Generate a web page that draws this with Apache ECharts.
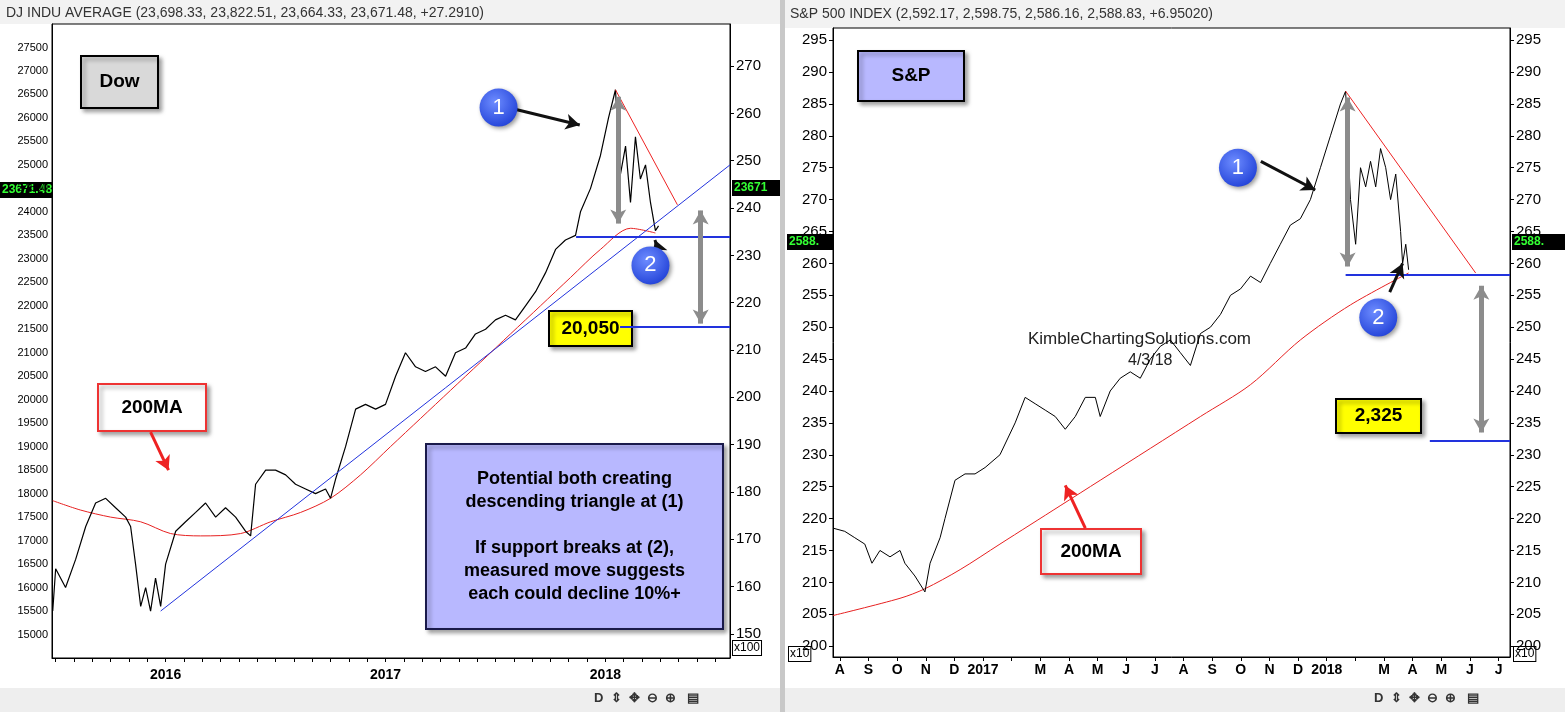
<!DOCTYPE html>
<html><head><meta charset="utf-8">
<script src="https://cdn.jsdelivr.net/npm/echarts@6/dist/echarts.min.js"></script>
<style>html,body{margin:0;padding:0;background:#fff}#c{width:1565px;height:712px}</style>
</head><body><div id="c"></div>
<script>
// Dow: x = months since Jan 2016
const dowX=[-6.16,-6.0,-5.46,-4.91,-4.36,-3.82,-3.27,-2.73,-2.18,-1.91,-1.64,-1.36,-1.09,-0.82,-0.55,-0.27,0,0.55,1.09,1.64,2.18,2.73,3.27,3.82,4.36,4.64,4.91,5.46,6.0,6.55,7.09,7.64,8.18,8.73,9.0,9.27,9.82,10.37,10.91,11.46,12.0,12.55,13.09,13.64,14.18,14.73,15.28,15.82,16.37,16.91,17.46,18.0,18.55,19.09,19.64,20.19,20.73,21.28,21.82,22.37,22.64,23.19,23.73,24.17,24.55,24.82,25.1,25.37,25.64,25.91,26.19,26.46,26.73,26.9];
const dowY=[15500,16400,16000,16600,17300,17800,17900,17700,17500,17300,16500,15600,16000,15500,16200,15600,16500,17200,17400,17600,17800,17500,17700,17500,17200,17100,18200,18500,18500,18400,18200,18100,18000,18100,17900,18300,19000,19800,19900,19800,19900,20500,21000,20700,20600,20700,20500,21000,21100,21400,21500,21700,21800,21700,22000,22300,22700,23200,23400,23500,24000,24500,25200,26000,26600,24800,25400,24200,25600,24700,25000,24200,23600,23700];
const dowMAX=[-6.16,-4.64,-3.0,-1.36,0.27,1.91,4.09,5.73,7.37,9.0,10.64,12.27,13.91,15.55,17.19,18.82,20.46,22.09,23.73,25.37,26.73];
const dowMAY=[17850,17650,17500,17400,17150,17100,17150,17400,17600,17900,18400,19000,19600,20200,20800,21400,22000,22600,23200,23650,23550];
const dowTicksL=[15000,15500,16000,16500,17000,17500,18000,18500,19000,19500,20000,20500,21000,21500,22000,22500,23000,23500,24000,24500,25000,25500,26000,26500,27000,27500];
const dowTicksR=[150,160,170,180,190,200,210,220,230,240,250,260,270];
const dowMonthTicks=[-6,-5,-4,-3,-2,-1,0,1,2,3,4,5,6,7,8,9,10,11,12,13,14,15,16,17,18,19,20,21,22,23,24,25,26,27,28,29,30];
// S&P: x = months since Aug 2016
const spX=[-0.24,0.17,0.52,0.87,1.12,1.40,1.75,2.10,2.27,2.62,2.97,3.15,3.50,3.67,4.02,4.37,4.72,5.07,5.59,6.12,6.47,6.82,7.17,7.52,7.87,8.22,8.57,8.92,9.09,9.44,9.79,10.14,10.49,10.84,11.19,11.54,11.89,12.24,12.59,12.94,13.29,13.64,13.99,14.34,14.69,15.03,15.38,15.73,16.08,16.43,16.78,17.13,17.48,17.66,17.83,18.01,18.18,18.36,18.53,18.71,18.88,19.06,19.23,19.41,19.58,19.65,19.76,19.86];
const spY=[218.5,218,217,216,213,215,214,215,213,211,208.5,213,217,220,226,227,227,228,230,235,239,238,237,236,234,236,239,239,236,240,242,243,242,245,247,248,246,244,249,250,252,255,256,258,257,260,263,266,267,270,275,280,285,287,270,263,275,272,276,272,278,275,270,274,265,260,263,259];
const spMAX=[-0.24,2.10,2.97,4.2,5.59,7.69,9.09,10.84,12.59,14.34,16.08,17.83,19.86];
const spMAY=[204.8,207.5,209,212,216,222,226,231,236,241,248,253.5,258.5];
const spTicks=[200,205,210,215,220,225,230,235,240,245,250,255,260,265,270,275,280,285,290,295];
const spMonthTicks=[0,1,2,3,4,5,6,7,8,9,10,11,12,13,14,15,16,17,18,19,20,21,22,23];
const spMonthLabels=['A','S','O','N','D','2017','','M','A','M','J','J','A','S','O','N','D','2018','','M','A','M','J','J'];

function seg(a,b,color,width,s1,s2){const ls={color:color,width:width,type:'solid'};
 return [{coord:a,symbol:s1||'none',lineStyle:ls},{coord:b,symbol:s2||'none',lineStyle:ls}];}
const GRAY='#8c8c8c';
const dowLines=[
 seg([-0.27,15500],[30.8,25000],'#2233dd',1),
 seg([22.4,23480],[30.8,23480],'#2233dd',2),
 seg([24.8,21560],[30.8,21560],'#2233dd',2),
 seg([24.55,26600],[27.93,24150],'#ee2222',1),
 seg([24.7,26450],[24.7,23750],GRAY,5,'arrow','arrow'),
 seg([29.2,24030],[29.2,21620],GRAY,5,'arrow','arrow'),
 seg([18.9,26200],[22.6,25850],'#111',3,'none','arrow'),
 seg([27.2,22900],[26.7,23400],'#111',3,'none','arrow'),
 seg([-0.82,19310],[0.16,18500],'#ee2222',3,'none','arrow')];
const spLines=[
 seg([17.66,258.2],[23.4,258.2],'#2233dd',2),
 seg([20.6,232.2],[23.4,232.2],'#2233dd',2),
 seg([17.66,287],[22.2,258.5],'#ee2222',1),
 seg([17.73,286],[17.73,259.5],GRAY,5,'arrow','arrow'),
 seg([22.4,256.5],[22.4,233.5],GRAY,5,'arrow','arrow'),
 seg([14.7,276],[16.6,271.5],'#111',3,'none','arrow'),
 seg([19.2,255.5],[19.65,260],'#111',3,'none','arrow'),
 seg([8.57,218.5],[7.87,225.2],'#ee2222',3,'none','arrow')];
function circ(x,y,t){return {coord:[x,y],value:t,symbol:'circle',symbolSize:38,
 itemStyle:{color:{type:'radial',x:0.4,y:0.35,r:0.7,colorStops:[{offset:0,color:'#6d8cff'},{offset:1,color:'#2242d8'}]},shadowBlur:4,shadowColor:'rgba(0,0,0,0.4)',shadowOffsetX:2,shadowOffsetY:2},
 label:{show:true,formatter:t,color:'#fff',fontSize:22,fontFamily:'Arial'}};}

const ch=echarts.init(document.getElementById('c'));
const axFont={color:'#000',fontFamily:'Arial',fontSize:12};
function box(l,t,w,h,fill,stroke,text,fs,lh){return {type:'group',left:l,top:t,children:[
 {type:'rect',shape:{width:w,height:h},style:{fill:fill,stroke:stroke,lineWidth:2,shadowBlur:4,shadowOffsetX:3,shadowOffsetY:3,shadowColor:'rgba(0,0,0,0.35)'}},
 {type:'text',x:w/2,y:h/2,style:{text:text,fill:'#000',font:'bold '+fs+'px Arial',align:'center',verticalAlign:'middle',lineHeight:lh||fs+4}}]};}
function tag(l,t,w,text){return {type:'group',left:l,top:t,children:[
 {type:'rect',shape:{width:w,height:16},style:{fill:'#000'}},
 {type:'text',x:2,y:8,style:{text:text,fill:'#3f3',font:'bold 12px Arial',verticalAlign:'middle'}}]};}
ch.setOption({
 animation:false,
 grid:[{left:52,top:24,width:678,height:634,show:true,borderColor:'#000',borderWidth:1},
       {left:833,top:28,width:677,height:629,show:true,borderColor:'#000',borderWidth:1}],
 xAxis:[{type:'value',gridIndex:0,min:-6.2,max:30.8,splitLine:{show:false},
   axisLine:{onZero:false,lineStyle:{color:'#000'}},axisTick:{customValues:dowMonthTicks,length:4,lineStyle:{color:'#000'}},
   axisLabel:{...axFont,fontSize:14,fontWeight:'bold',margin:10,customValues:[0,12,24],
     formatter:v=>String(2016+Math.round(v)/12)}},
  {type:'value',gridIndex:1,min:-0.24,max:23.4,splitLine:{show:false},
   axisLine:{onZero:false,lineStyle:{color:'#000'}},axisTick:{customValues:spMonthTicks,length:4,lineStyle:{color:'#000'}},
   axisLabel:{...axFont,fontSize:14,fontWeight:'bold',margin:6,customValues:spMonthTicks,
     formatter:v=>{const m=Math.round(v);return spMonthLabels[m]||'';}}}],
 yAxis:[{type:'value',gridIndex:0,position:'left',min:14500,max:28000,splitLine:{show:false},
   axisLine:{show:true,onZero:false,lineStyle:{color:'#000'}},axisTick:{show:false},
   axisLabel:{...axFont,fontSize:11,customValues:dowTicksL,margin:4,formatter:v=>String(v)}},
  {type:'value',gridIndex:0,position:'right',min:144.9,max:278.9,splitLine:{show:false},
   axisLine:{show:true,onZero:false,lineStyle:{color:'#000'}},axisTick:{show:true,customValues:dowTicksR,length:4,lineStyle:{color:'#000'}},
   axisLabel:{...axFont,fontSize:15,customValues:dowTicksR,margin:6}},
  {type:'value',gridIndex:1,position:'left',min:198.3,max:296.9,splitLine:{show:false},
   axisLine:{show:true,onZero:false,lineStyle:{color:'#000'}},axisTick:{show:true,customValues:spTicks,length:4,lineStyle:{color:'#000'}},
   axisLabel:{...axFont,fontSize:15,customValues:spTicks,margin:6}},
  {type:'value',gridIndex:1,position:'right',min:198.3,max:296.9,splitLine:{show:false},
   axisLine:{show:true,onZero:false,lineStyle:{color:'#000'}},axisTick:{show:true,customValues:spTicks,length:4,lineStyle:{color:'#000'}},
   axisLabel:{...axFont,fontSize:15,customValues:spTicks,margin:6}}],
 series:[
  {type:'line',xAxisIndex:0,yAxisIndex:0,data:dowMAX.map((x,i)=>[x,dowMAY[i]]),smooth:0.3,showSymbol:false,lineStyle:{color:'#e62020',width:1}},
  {type:'line',xAxisIndex:0,yAxisIndex:0,data:dowX.map((x,i)=>[x,dowY[i]]),showSymbol:false,lineStyle:{color:'#000',width:1.2},
   markLine:{silent:true,symbolSize:[12,14],label:{show:false},data:dowLines},
   markPoint:{data:[circ(18.17,26220,'1'),circ(26.46,22860,'2')]}},
  {type:'line',xAxisIndex:1,yAxisIndex:2,data:spMAX.map((x,i)=>[x,spMAY[i]]),smooth:0.3,showSymbol:false,lineStyle:{color:'#e62020',width:1}},
  {type:'line',xAxisIndex:1,yAxisIndex:2,data:spX.map((x,i)=>[x,spY[i]]),showSymbol:false,lineStyle:{color:'#000',width:1},
   markLine:{silent:true,symbolSize:[12,14],label:{show:false},data:spLines},
   markPoint:{data:[circ(13.9,275,'1'),circ(18.8,251.5,'2')]}}],
 graphic:[
  {type:'rect',left:0,top:0,shape:{width:780,height:24},style:{fill:'#f2f2f2'},z:-1},
  {type:'rect',left:785,top:0,shape:{width:780,height:28},style:{fill:'#f2f2f2'},z:-1},
  {type:'rect',left:780,top:0,shape:{width:5,height:712},style:{fill:'#c8c8c8'}},
  {type:'text',left:6,top:6,style:{text:'DJ INDU AVERAGE (23,698.33, 23,822.51, 23,664.33, 23,671.48, +27.2910)',font:'14px Arial',fill:'#333'}},
  {type:'text',left:790,top:7,style:{text:'S&P 500 INDEX (2,592.17, 2,598.75, 2,586.16, 2,588.83, +6.95020)',font:'14px Arial',fill:'#333'}},
  {type:'rect',left:0,top:688,shape:{width:780,height:24},style:{fill:'#eeeeee'}},
  {type:'rect',left:785,top:688,shape:{width:780,height:24},style:{fill:'#eeeeee'}},
  {type:'text',left:594,top:692,style:{text:'D  ⇕  ✥  ⊖  ⊕   ▤',font:'bold 13px Arial',fill:'#333'}},
  {type:'text',left:1374,top:692,style:{text:'D  ⇕  ✥  ⊖  ⊕   ▤',font:'bold 13px Arial',fill:'#333'}},
  {type:'text',left:732,top:640,style:{text:'x100',font:'12px Arial',fill:'#000',backgroundColor:'#fff',borderColor:'#000',borderWidth:1,padding:1}},
  {type:'text',left:788,top:646,style:{text:'x10',font:'12px Arial',fill:'#000',backgroundColor:'#fff',borderColor:'#000',borderWidth:1,padding:1}},
  {type:'text',left:1513,top:646,style:{text:'x10',font:'12px Arial',fill:'#000',backgroundColor:'#fff',borderColor:'#000',borderWidth:1,padding:1}},
  tag(0,182,52,'23671.48'), tag(732,180,48,'23671'), tag(787,234,46,'2588.'), tag(1512,234,53,'2588.'),
  box(80,55,77,52,'#d9d9d9','#000','Dow',19),
  box(857,50,106,50,'#b8b8ff','#000','S&P',19),
  box(97,383,108,47,'#fff','#e33','200MA',19),
  box(1040,528,100,45,'#fff','#e33','200MA',19),
  box(548,310,83,35,'#ffff00','#000','20,050',19),
  box(1335,398,85,34,'#ffff00','#000','2,325',19),
  box(425,443,297,185,'#b8b8ff','#1a1a4a','Potential both creating\ndescending triangle at (1)\n\nIf support breaks at (2),\nmeasured move suggests\neach could decline 10%+',18,23),
  {type:'text',left:1028,top:331,style:{text:'KimbleChartingSolutions.com',font:'17px Arial',fill:'#222'}},
  {type:'text',left:1128,top:353,style:{text:'4/3/18',font:'16px Arial',fill:'#222'}}
 ]
});
</script></body></html>
